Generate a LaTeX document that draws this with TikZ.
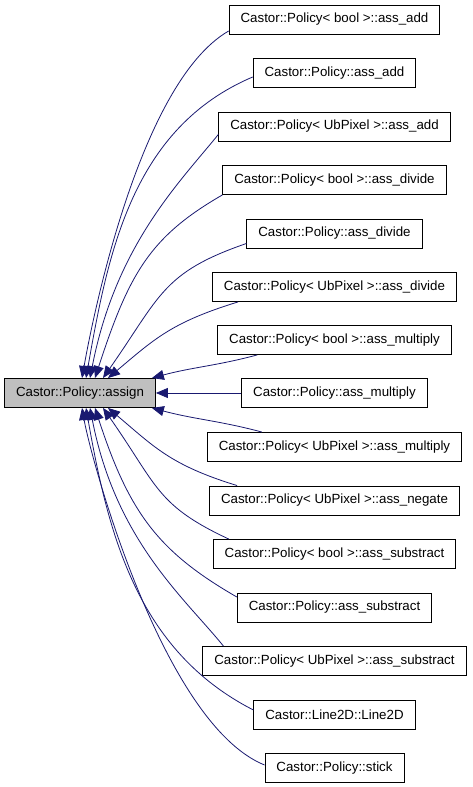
\documentclass[tikz,border=0pt]{standalone}
\usepackage{fontspec}
\setmainfont{Liberation Sans}
\usetikzlibrary{arrows.meta}
\definecolor{edgeblue}{RGB}{25,25,112}
\definecolor{maingray}{RGB}{191,191,191}
\tikzset{
  fn/.style={draw=black, line width=0.9pt, minimum height=29pt, inner xsep=11.5pt,
    font=\fontsize{13.3}{16}\selectfont},
  caller/.style={edgeblue, line width=0.8pt},
}
\begin{document}
\begin{tikzpicture}[x=1pt, y=1pt, >={Triangle[length=12pt,width=10pt]}]
\useasboundingbox (0,0) rectangle (472,787);
\node[fn, fill=maingray](m) at (80,394){Castor::Policy::assign};

\node[fn](b1) at (334.5,767.5){Castor::Policy< bool >::ass\_add};
\node[fn](b2) at (334.5,714){Castor::Policy::ass\_add};
\node[fn](b3) at (334.5,660.5){Castor::Policy< UbPixel >::ass\_add};
\node[fn](b4) at (334.5,607){Castor::Policy< bool >::ass\_divide};
\node[fn](b5) at (334.5,553.5){Castor::Policy::ass\_divide};
\node[fn](b6) at (334.5,500){Castor::Policy< UbPixel >::ass\_divide};
\node[fn](b7) at (334.5,447){Castor::Policy< bool >::ass\_multiply};
\node[fn](b8) at (334.5,394){Castor::Policy::ass\_multiply};
\node[fn](b9) at (334.5,340){Castor::Policy< UbPixel >::ass\_multiply};
\node[fn](b10) at (334.5,286.5){Castor::Policy< UbPixel >::ass\_negate};
\node[fn](b11) at (334.5,233){Castor::Policy< bool >::ass\_substract};
\node[fn](b12) at (334.5,179.5){Castor::Policy::ass\_substract};
\node[fn](b13) at (334.5,126){Castor::Policy< UbPixel >::ass\_substract};
\node[fn](b14) at (334.5,72.5){Castor::Line2D::Line2D};
\node[fn](b15) at (334.5,19){Castor::Policy::stick};

% callers above
\draw[caller,->]([yshift=-11.5]b1.west) to[out=210,in=80,out distance=105,in distance=51] ([xshift=2]m.north);
\draw[caller,->]([yshift=-4]b2.west) to[out=203,in=80,out distance=131,in distance=127] ([xshift=6]m.north);
\draw[caller,->]([yshift=-8]b3.west) to[out=231,in=79,out distance=62,in distance=135] ([xshift=10]m.north);
\draw[caller,->](b4.south west) to[out=210,in=72,out distance=83,in distance=111] ([xshift=15]m.north);
\draw[caller,->]([yshift=-10]b5.west) to[out=199,in=55,out distance=89,in distance=100] ([xshift=23]m.north);
\draw[caller,->]([xshift=26]b6.south west) to[out=197,in=40,out distance=70,in distance=60] ([xshift=28]m.north);
\draw[caller,->]([xshift=40]b7.south west) to[out=195,in=15] ([xshift=-4]m.north east);
\draw[caller,->](b8.west)--(m.east);
% callers below
\draw[caller,->]([xshift=55]b9.north west) to[out=165,in=-15] ([xshift=-4]m.south east);
\draw[caller,->]([xshift=28]b10.north west) to[out=163,in=-40,out distance=70,in distance=60] ([xshift=28]m.south);
\draw[caller,->]([xshift=16]b11.north west) to[out=155,in=-55,out distance=80,in distance=95] ([xshift=23]m.south);
\draw[caller,->]([yshift=10.5]b12.west) to[out=150,in=-72,out distance=90,in distance=111] ([xshift=15]m.south);
\draw[caller,->]([xshift=21]b13.north west) to[out=129,in=-79,out distance=62,in distance=135] ([xshift=10]m.south);
\draw[caller,->]([yshift=4.5]b14.west) to[out=153,in=-80,out distance=131,in distance=127] ([xshift=6]m.south);
\draw[caller,->]([yshift=3]b15.west) to[out=158,in=-80,out distance=110,in distance=51] ([xshift=2]m.south);
\end{tikzpicture}
\end{document}
